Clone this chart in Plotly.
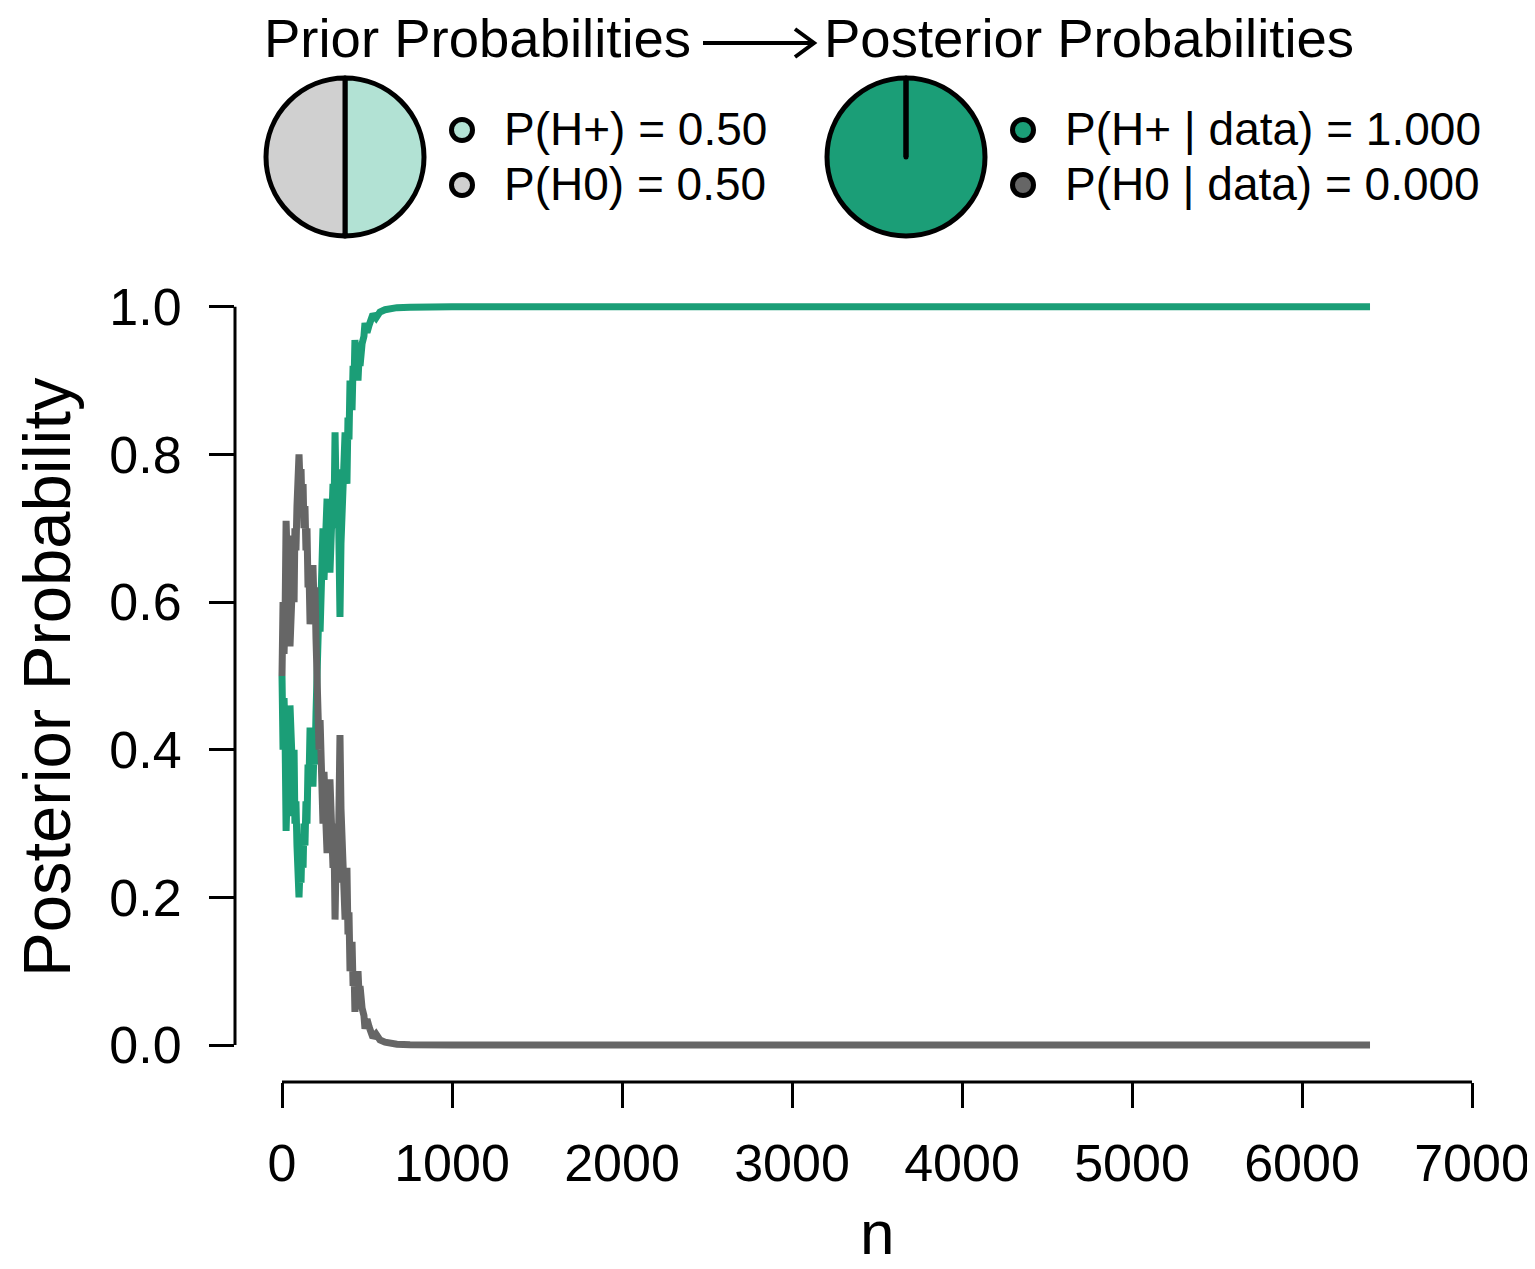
import plotly.graph_objects as go

# sequential analysis: n observations vs posterior probability of H+
n_obs = [0, 6, 12, 18, 24, 29, 35, 41, 47, 53, 59, 65, 71, 76, 82, 88, 94, 100,
         106, 112, 118, 124, 129, 135, 141, 147, 153, 159, 165, 171, 176, 182,
         188, 194, 200, 206, 212, 218, 224, 229, 235, 241, 247, 253, 259, 265,
         271, 276, 282, 288, 294, 300, 306, 312, 318, 324, 329, 335, 341, 347,
         353, 359, 365, 371, 376, 382, 388, 394, 400, 406, 412, 418, 424, 429,
         435, 441, 447, 453, 459, 471, 482, 488, 500, 512, 524, 535, 553, 576,
         606, 635, 676, 753, 871, 1000, 2000, 3000, 4000, 5000, 6400]
p_hplus = [0.50, 0.40, 0.47, 0.42, 0.29, 0.33, 0.38, 0.31, 0.46, 0.42, 0.38,
           0.35, 0.40, 0.30, 0.33, 0.27, 0.22, 0.20, 0.24, 0.22, 0.28, 0.24,
           0.30, 0.27, 0.33, 0.30, 0.38, 0.36, 0.43, 0.40, 0.38, 0.35, 0.40,
           0.38, 0.45, 0.52, 0.47, 0.60, 0.56, 0.65, 0.60, 0.70, 0.63, 0.68,
           0.65, 0.74, 0.66, 0.72, 0.64, 0.70, 0.66, 0.76, 0.72, 0.83, 0.75,
           0.70, 0.78, 0.66, 0.58, 0.68, 0.72, 0.76, 0.74, 0.83, 0.80, 0.76,
           0.85, 0.82, 0.90, 0.88, 0.86, 0.92, 0.90, 0.955, 0.94, 0.93, 0.90,
           0.93, 0.92, 0.95, 0.96, 0.978, 0.965, 0.975, 0.985, 0.99, 0.985,
           0.993, 0.996, 0.998, 0.9988, 0.9995, 1.0, 1.0, 1.0, 1.0, 1.0, 1.0, 1.0]
p_h0 = [1 - p for p in p_hplus]

prior_labels = ["P(H+) = 0.50", "P(H0) = 0.50"]
prior_values = [0.5, 0.5]
post_labels = ["P(H+ | data) = 1.000", "P(H0 | data) = 0.000"]
post_values = [1.0, 0.0]

x_ticks = [0, 1000, 2000, 3000, 4000, 5000, 6000, 7000]
y_ticks = [0.0, 0.2, 0.4, 0.6, 0.8, 1.0]

GREEN = "#1b9e77"
DARK = "#666666"
LIGHT_GREEN = "#b2e2d4"
LIGHT_GREY = "#d0d0d0"
FONT = "Liberation Sans, Arial, sans-serif"

# page body adds an 8px margin, so the figure is a bit smaller than the window
OFF = 8
W, H = 1535 - OFF, 1269 - OFF

# main plot area in window pixels
PL, PR, PT, PB = 235, 1475, 292, 1082
X_MIN, X_MAX = -276.5, 7017.6
Y_MIN, Y_MAX = -0.05, 1.02


def xf(px):
    return (px - OFF) / W


def yf(py):
    return (H - (py - OFF)) / H


def n_px(n):
    return PL + (n - X_MIN) / (X_MAX - X_MIN) * (PR - PL)


def p_px(p):
    return PB - (p - Y_MIN) / (Y_MAX - Y_MIN) * (PB - PT)


fig = go.Figure()

fig.add_trace(go.Scatter(x=n_obs, y=p_hplus, mode="lines",
                         line=dict(color=GREEN, width=7), hoverinfo="skip"))
fig.add_trace(go.Scatter(x=n_obs, y=p_h0, mode="lines",
                         line=dict(color=DARK, width=7), hoverinfo="skip"))

# pies
fig.add_trace(go.Pie(values=prior_values, labels=prior_labels, sort=False,
                     direction="clockwise", rotation=0, textinfo="none",
                     hoverinfo="skip", showlegend=False,
                     marker=dict(colors=[LIGHT_GREEN, LIGHT_GREY],
                                 line=dict(color="black", width=5)),
                     domain=dict(x=[xf(266), xf(424)], y=[yf(236), yf(78)])))
fig.add_trace(go.Pie(values=post_values, labels=post_labels, sort=False,
                     direction="clockwise", rotation=0, textinfo="none",
                     hoverinfo="skip", showlegend=False,
                     marker=dict(colors=[GREEN, DARK],
                                 line=dict(color="black", width=5)),
                     domain=dict(x=[xf(827), xf(985)], y=[yf(236), yf(78)])))

# legend dots on a pixel overlay (window pixel coords)
fig.add_trace(go.Scatter(x=[462, 462, 1023, 1023], y=[130, 185, 130, 185],
                         mode="markers", xaxis="x2", yaxis="y2", hoverinfo="skip",
                         marker=dict(size=21, color=[LIGHT_GREEN, LIGHT_GREY, GREEN, DARK],
                                     line=dict(color="black", width=5))))

TITLE_Y = 38
ann = []
txt = dict(xref="x2", yref="y2", showarrow=False, xanchor="left", yanchor="middle")
ann.append(dict(text="Prior Probabilities", x=262, y=TITLE_Y, font=dict(size=54.5), **txt))
ann.append(dict(text="Posterior Probabilities", x=822, y=TITLE_Y, font=dict(size=54.5), **txt))
for i, lab in enumerate(prior_labels):
    ann.append(dict(text=lab, x=502, y=129 + 55 * i, font=dict(size=46), **txt))
for i, lab in enumerate(post_labels):
    ann.append(dict(text=lab, x=1063, y=129 + 55 * i, font=dict(size=46), **txt))
ann.append(dict(text="Posterior Probability", x=46, y=677, textangle=-90,
                xref="x2", yref="y2", showarrow=False, xanchor="center",
                yanchor="middle", font=dict(size=67)))
ann.append(dict(text="n", x=877, y=1232, xref="x2", yref="y2", showarrow=False,
                xanchor="center", yanchor="middle", font=dict(size=62)))

ov = dict(xref="x2", yref="y2")
ay = TITLE_Y + 5
shapes = [
    # detached axis lines (R style), drawn on the overlay so they are not clipped
    dict(type="line", x0=n_px(x_ticks[0]), x1=n_px(x_ticks[-1]), y0=PB, y1=PB,
         line=dict(color="black", width=3), **ov),
    dict(type="line", x0=PL, x1=PL, y0=p_px(y_ticks[0]), y1=p_px(y_ticks[-1]),
         line=dict(color="black", width=3), **ov),
    # arrow between prior and posterior
    dict(type="line", x0=703, x1=813, y0=ay, y1=ay,
         line=dict(color="black", width=4), **ov),
    dict(type="path", path=f"M 795,{ay - 14} L 814,{ay} L 795,{ay + 14}",
         line=dict(color="black", width=4), **ov),
    # radial line of posterior pie
    dict(type="line", x0=906, x1=906, y0=80, y1=157,
         line=dict(color="black", width=5), **ov),
]

fig.update_layout(
    width=W, height=H,
    margin=dict(l=0, r=0, t=0, b=0),
    paper_bgcolor="white", plot_bgcolor="rgba(0,0,0,0)",
    font=dict(family=FONT, color="black"),
    showlegend=False,
    annotations=ann, shapes=shapes,
    xaxis=dict(domain=[xf(PL), xf(PR)], range=[X_MIN, X_MAX],
               tickvals=x_ticks, ticks="outside", ticklen=25, tickwidth=3,
               tickcolor="black", showline=False, showgrid=False, zeroline=False,
               tickfont=dict(size=52), ticklabelstandoff=11, automargin=False),
    yaxis=dict(domain=[yf(PB), yf(PT)], range=[Y_MIN, Y_MAX],
               tickvals=y_ticks, ticktext=[f"{v:.1f}" for v in y_ticks],
               ticks="outside", ticklen=25, tickwidth=3, tickcolor="black",
               showline=False, showgrid=False, zeroline=False,
               tickfont=dict(size=52), ticklabelstandoff=17, automargin=False),
    xaxis2=dict(domain=[0, 1], range=[OFF, OFF + W], visible=False, anchor="y2"),
    yaxis2=dict(domain=[0, 1], range=[OFF + H, OFF], visible=False, anchor="x2"),
)

fig.write_html("out.html")
